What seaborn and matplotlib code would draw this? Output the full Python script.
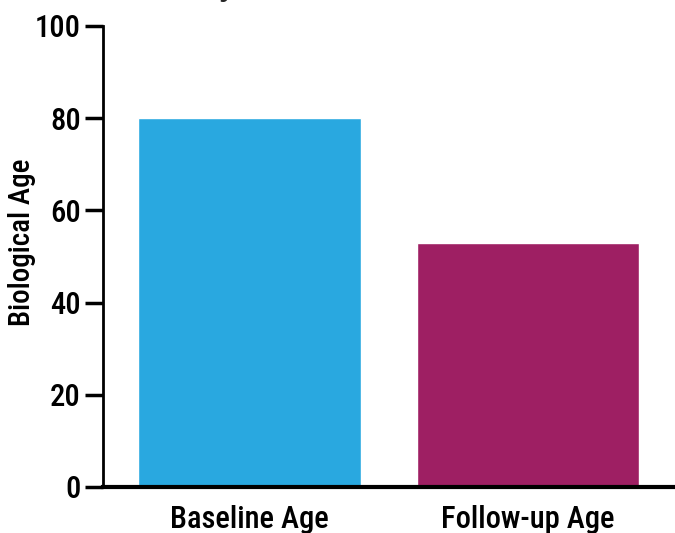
import matplotlib
matplotlib.use("Agg")
import matplotlib.pyplot as plt
import seaborn as sns
import pandas as pd

# values
categories = ["Baseline Age", "Follow-up Age"]
ages = [80, 53]
bar_colors = ["#29A8E0", "#9E1F63"]

df = pd.DataFrame({"group": categories, "age": ages})

sns.set_style("white")
plt.rcParams["font.family"] = ["Roboto Condensed", "DejaVu Sans"]
plt.rcParams["font.weight"] = 500

fig = plt.figure(figsize=(6.75, 5.33), dpi=100)
ax = fig.add_axes([103 / 675, 46 / 533, 572 / 675, 461 / 533])

sns.barplot(data=df, x="group", y="age", hue="group", palette=bar_colors,
            width=0.8, saturation=1, legend=False, ax=ax)

ax.set_xlim(-0.526, 1.528)
ax.set_ylim(0, 100)
ax.set_yticks([0, 20, 40, 60, 80, 100])
ax.set_xlabel("")
ax.set_ylabel("Biological Age", fontsize=21, fontweight=500, color="black")
ax.yaxis.set_label_coords(-0.117, 0.531)

for s in ["top", "right"]:
    ax.spines[s].set_visible(False)
ax.spines["left"].set_linewidth(2)
ax.spines["bottom"].set_linewidth(3)
ax.spines["left"].set_color("black")
ax.spines["bottom"].set_color("black")

ax.tick_params(axis="y", length=13, width=2.5, color="black", labelcolor="black",
               labelsize=22, pad=3, left=True)
ax.tick_params(axis="x", length=0, labelcolor="black", labelsize=22, pad=13)

# title sits above the visible area; only a descender peeks in
fig.text(0.598, 1.012, "Study Outcomes After Treatment", ha="center", va="baseline",
         fontsize=28, fontweight="bold")

fig.savefig("out.png", dpi=100)
